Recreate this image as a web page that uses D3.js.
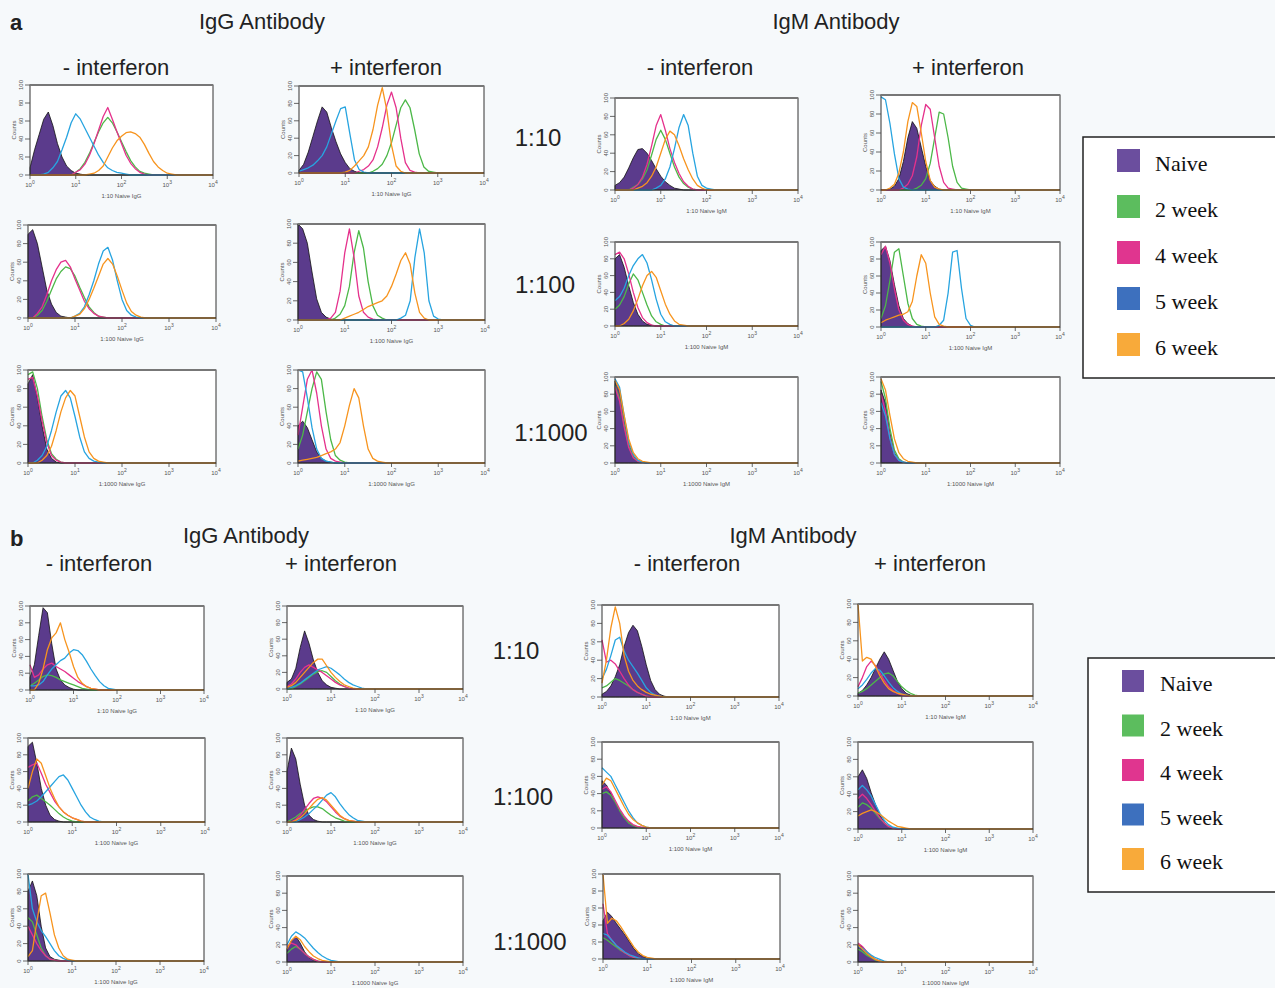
<!DOCTYPE html>
<html>
<head>
<meta charset="utf-8">
<script src="https://cdn.jsdelivr.net/npm/d3@7"></script>
<style>
  body { margin:0; background:#f6f9fb; }
  svg { display:block; }
</style>
</head>
<body>
<script>
const W = 1275, H = 988;

// histogram bins are 0.1 decade wide; each curve = [first bin decade, counts...]
const binStep = 0.1;
const seriesNames = ["Naive", "2 week", "4 week", "5 week", "6 week"];
const lineColors = ["#5b3b8c", "#4cb848", "#e5318c", "#27a4e0", "#f7941e"];
const legendColors = ["#6b4e9e", "#5cbd5e", "#e0358f", "#3d70be", "#f8aa3a"];
const xTicks = [1, 10, 100, 1000, 10000];
const yTicks = [0, 20, 40, 60, 80, 100];

// ---- part a ----  order: naive, 2wk, 4wk, 5wk, 6wk
const aIgGNeg10 = [
  [0, 8,28,45,62,70,55,35,20,10,5,2,1,0],
  [1.0, 3,7,14,24,36,48,58,64,58,48,37,26,16,9,4,2,1,0],
  [1.0, 3,6,12,22,35,50,65,75,62,48,35,22,13,7,3,1,0],
  [0.3, 1,3,8,15,28,42,58,68,62,52,42,32,22,14,8,5,3,2,1,0],
  [1.3, 1,2,5,10,20,30,38,43,47,48,46,42,34,24,15,9,5,2,1,0]
];
const aIgGPos10 = [
  [0, 3,10,24,42,60,76,70,52,36,22,12,5,2,0],
  [1.6, 2,5,10,20,35,55,75,84,75,50,22,7,2,1,0],
  [1.3, 2,4,8,15,30,52,78,93,75,40,12,3,1,0],
  [0, 2,4,6,9,14,20,30,45,60,74,76,45,15,4,1,0],
  [1.0, 1,3,8,14,20,30,50,78,98,72,32,8,2,0]
];
const aIgMNeg10 = [
  [0, 5,8,14,24,35,44,45,40,32,23,15,9,5,2,1,0],
  [0.4, 3,6,12,22,38,55,65,55,40,25,14,7,3,1,0],
  [0.4, 2,6,14,28,48,70,82,65,45,30,18,9,4,1,0],
  [0.9, 2,5,12,25,45,68,82,70,40,15,5,2,1,0],
  [0.5, 2,4,8,15,25,40,55,64,60,48,34,22,12,5,2,0]
];
const aIgMPos10 = [
  [0.2, 1,4,12,30,55,72,65,45,25,10,4,1,0],
  [0.8, 2,5,12,28,55,82,80,55,25,8,2,1,0],
  [0.5, 2,6,15,35,68,90,85,55,25,8,2,1,0],
  [0, 98,95,70,38,12,3,1,0],
  [0.2, 2,6,18,40,72,92,88,60,30,10,3,1,0]
];
const aIgGNeg100 = [
  [0, 90,95,80,55,30,15,6,2,1,0],
  [0.2, 3,8,18,30,42,50,55,53,45,33,22,12,6,2,1,0],
  [0.2, 5,12,25,40,52,60,62,55,42,30,18,10,5,2,1,0],
  [1.0, 2,5,12,25,40,58,72,76,62,40,20,8,3,1,0],
  [1.0, 2,4,10,20,32,45,58,64,58,45,30,16,7,3,1,0]
];
const aIgGPos100 = [
  [0, 100,95,80,50,22,8,3,1,0],
  [0.8, 2,6,15,35,70,93,75,40,15,5,2,0],
  [0.7, 2,8,30,70,95,65,25,8,3,1,0],
  [2.2, 2,5,20,65,95,70,20,4,1,0],
  [1.0, 2,4,6,8,11,14,16,18,20,25,35,48,62,70,58,28,8,2,0]
];
const aIgMNeg100 = [
  [0, 80,85,70,48,28,14,6,2,1,0],
  [0, 20,25,35,50,62,55,40,25,12,5,2,0],
  [0, 85,88,80,62,40,22,10,4,1,0],
  [0, 30,35,45,60,72,80,85,75,55,32,14,5,2,0],
  [0.2, 3,8,18,32,48,60,65,58,42,26,14,6,2,1,0]
];
const aIgMPos100 = [
  [0, 90,95,78,50,25,10,4,1,0],
  [0, 10,25,55,88,92,60,28,10,3,1,0],
  [0, 85,95,75,45,20,8,3,1,0],
  [1.3, 2,8,40,88,90,45,10,2,0],
  [0, 5,8,10,12,14,15,18,30,60,85,75,40,12,3,1,0]
];
const aIgGNeg1000 = [
  [0, 85,95,70,40,15,5,1,0],
  [0, 95,98,80,50,25,10,4,1,0],
  [0, 90,92,72,45,22,8,3,1,0],
  [0.2, 3,8,18,35,55,72,78,70,50,28,12,5,2,1,0],
  [0.3, 3,8,18,35,55,70,78,72,50,28,12,5,2,1,0]
];
const aIgGPos1000 = [
  [0, 40,45,38,25,12,5,2,1,0],
  [0, 15,30,55,80,98,90,55,25,8,3,1,0],
  [0, 30,60,90,100,75,40,15,5,2,1,0],
  [0, 100,98,70,38,15,5,2,1,0],
  [0, 2,3,4,5,6,8,10,12,15,22,40,62,80,70,40,15,5,2,1,0]
];
const aIgMNeg1000 = [
  [0, 95,85,50,22,8,3,1,0],
  [0, 90,75,45,20,7,2,1,0],
  [0, 88,72,42,18,6,2,1,0],
  [0, 98,88,55,25,10,3,1,0],
  [0, 96,85,55,28,12,5,2,1,0]
];
const aIgMPos1000 = [
  [0, 85,70,35,12,4,1,0],
  [0, 95,75,40,15,5,1,0],
  [0, 80,60,30,10,3,1,0],
  [0, 70,55,28,10,3,1,0],
  [0, 98,85,55,28,12,5,2,1,0]
];

// ---- part b ----
const bIgGNeg10 = [
  [0, 15,30,65,98,92,55,25,12,6,3,1,0],
  [0, 5,8,12,16,18,17,15,12,10,8,6,4,2,1,0],
  [0, 30,15,18,25,30,32,28,25,22,18,14,10,7,4,2,1,0],
  [0, 5,5,6,10,18,25,30,35,38,44,48,47,42,34,25,17,10,5,2,1,0],
  [0.2, 8,25,48,62,68,80,60,45,28,15,8,4,2,1,0]
];
const bIgGPos10 = [
  [0, 8,12,25,50,70,55,35,20,10,5,2,1,0],
  [0.2, 3,6,10,14,18,21,22,20,15,10,6,3,1,0],
  [0, 3,6,12,20,26,29,26,23,20,16,12,8,5,3,1,0],
  [0.1, 2,4,7,11,15,19,23,25,27,25,21,17,12,8,5,3,1,0],
  [0, 2,4,8,14,20,26,32,36,36,28,20,14,9,5,3,1,0]
];
const bIgMNeg10 = [
  [0, 3,6,12,22,35,55,70,78,72,55,35,18,8,3,1,0],
  [0, 10,12,16,20,18,15,12,8,5,3,1,0],
  [0, 62,38,40,36,28,20,13,8,5,3,1,0],
  [0, 20,30,45,62,65,50,40,33,26,18,10,5,2,1,0],
  [0, 15,40,75,98,80,45,28,18,12,8,5,3,2,1,0]
];
const bIgMPos10 = [
  [0, 3,6,12,20,30,40,48,40,28,16,8,3,1,0],
  [0, 3,5,8,12,16,20,24,25,22,16,10,6,3,1,0],
  [0, 10,20,32,38,33,25,17,10,6,3,1,0],
  [0, 8,12,18,25,30,28,22,15,9,5,2,1,0],
  [0, 100,38,42,40,32,22,14,8,5,3,2,1,0]
];
const bIgGNeg100 = [
  [0, 90,95,70,40,20,8,3,1,0],
  [0, 25,30,32,28,24,20,15,10,6,3,1,0],
  [0, 65,68,70,58,45,35,25,18,12,8,5,3,1,0],
  [0, 20,22,25,30,36,42,48,54,56,50,40,30,20,12,6,3,1,0],
  [0, 40,60,75,70,55,40,28,18,12,8,5,3,1,0]
];
const bIgGPos100 = [
  [0, 60,88,75,45,20,8,3,1,0],
  [0.1, 3,6,10,13,16,18,18,16,12,8,5,3,1,0],
  [0.2, 3,8,15,22,28,30,28,24,18,12,7,4,2,1,0],
  [0.3, 3,6,10,15,20,26,32,35,30,22,15,9,5,2,1,0],
  [0.2, 2,5,10,16,22,27,29,26,20,14,8,4,2,1,0]
];
const bIgMNeg100 = [
  [0, 55,50,40,30,20,12,7,3,1,0],
  [0, 40,42,38,30,20,12,6,3,1,0],
  [0, 45,48,42,32,22,14,8,4,2,1,0],
  [0, 70,65,60,50,40,30,20,12,6,3,1,0],
  [0, 50,58,55,45,35,25,16,10,6,3,1,0]
];
const bIgMPos100 = [
  [0, 60,68,58,42,28,16,8,3,1,0],
  [0, 25,30,28,24,18,12,7,3,1,0],
  [0, 35,40,35,28,20,13,7,3,1,0],
  [0, 45,50,45,38,28,18,10,5,2,1,0],
  [0, 15,18,20,22,20,17,13,9,6,3,2,1,0]
];
const bIgGNeg1000 = [
  [0, 80,92,75,40,15,5,2,1,0],
  [0, 50,45,30,15,6,2,1,0],
  [0, 40,30,20,12,6,2,1,0],
  [0, 100,60,45,35,28,20,12,6,3,1,0],
  [0, 5,12,45,75,78,55,30,15,6,2,1,0]
];
const bIgGPos1000 = [
  [0, 15,25,30,22,12,5,2,1,0],
  [0, 10,15,18,15,10,6,3,1,0],
  [0, 18,22,20,15,10,6,3,1,0],
  [0, 20,30,35,32,28,22,16,11,7,4,2,1,0],
  [0, 15,25,30,26,18,12,7,4,2,1,0]
];
const bIgMNeg1000 = [
  [0, 45,55,50,42,35,28,20,12,6,3,1,0],
  [0, 25,22,18,14,10,7,4,2,1,0],
  [0, 65,30,22,16,11,7,4,2,1,0],
  [0, 30,28,22,16,12,8,5,3,1,0],
  [0, 100,42,48,45,38,30,22,14,8,4,2,1,0]
];
const bIgMPos1000 = [
  [0, 20,18,12,7,3,1,0],
  [0, 15,12,8,5,2,1,0],
  [0, 22,18,12,6,3,1,0],
  [0, 18,16,12,8,5,3,1,0],
  [0, 20,15,10,6,3,1,0]
];

// panel frames on the page
const panels = [
  {d:aIgGNeg10,  x:30,  y:85,  w:183, h:90, lab:"1:10 Naive IgG"},
  {d:aIgGPos10,  x:299, y:86,  w:185, h:87, lab:"1:10 Naive IgG"},
  {d:aIgMNeg10,  x:615, y:98,  w:183, h:92, lab:"1:10 Naive IgM"},
  {d:aIgMPos10,  x:881, y:95,  w:179, h:95, lab:"1:10 Naive IgM"},
  {d:aIgGNeg100, x:28,  y:225, w:188, h:93, lab:"1:100 Naive IgG"},
  {d:aIgGPos100, x:298, y:224, w:187, h:96, lab:"1:100 Naive IgG"},
  {d:aIgMNeg100, x:615, y:242, w:183, h:84, lab:"1:100 Naive IgM"},
  {d:aIgMPos100, x:881, y:242, w:179, h:85, lab:"1:100 Naive IgM"},
  {d:aIgGNeg1000,x:28,  y:370, w:188, h:93, lab:"1:1000 Naive IgG"},
  {d:aIgGPos1000,x:298, y:370, w:187, h:93, lab:"1:1000 Naive IgG"},
  {d:aIgMNeg1000,x:615, y:377, w:183, h:86, lab:"1:1000 Naive IgM"},
  {d:aIgMPos1000,x:881, y:377, w:179, h:86, lab:"1:1000 Naive IgM"},
  {d:bIgGNeg10,  x:30,  y:606, w:174, h:84, lab:"1:10 Naive IgG"},
  {d:bIgGPos10,  x:287, y:606, w:176, h:83, lab:"1:10 Naive IgG"},
  {d:bIgMNeg10,  x:602, y:605, w:177, h:92, lab:"1:10 Naive IgM"},
  {d:bIgMPos10,  x:858, y:604, w:175, h:92, lab:"1:10 Naive IgM"},
  {d:bIgGNeg100, x:28,  y:738, w:177, h:84, lab:"1:100 Naive IgG"},
  {d:bIgGPos100, x:287, y:738, w:176, h:84, lab:"1:100 Naive IgG"},
  {d:bIgMNeg100, x:602, y:742, w:177, h:86, lab:"1:100 Naive IgM"},
  {d:bIgMPos100, x:858, y:742, w:175, h:87, lab:"1:100 Naive IgM"},
  {d:bIgGNeg1000,x:28,  y:874, w:176, h:87, lab:"1:100 Naive IgG"},
  {d:bIgGPos1000,x:287, y:876, w:176, h:86, lab:"1:1000 Naive IgG"},
  {d:bIgMNeg1000,x:603, y:874, w:177, h:85, lab:"1:100 Naive IgM"},
  {d:bIgMPos1000,x:858, y:876, w:175, h:86, lab:"1:1000 Naive IgM"}
];

const svg = d3.select("body").append("svg")
  .attr("width", W).attr("height", H)
  .style("background", "#f6f9fb");

function curvePoints(c) {
  var from = c[0], n = c.slice(1);
  var pts = n.map(function(v, i) { return [from + i * binStep, v]; });
  if (from > 0) pts.unshift([0, 0], [from - binStep, 0]);
  pts.push([from + n.length * binStep, 0], [4, 0]);
  return pts;
}

panels.forEach(function(p) {
  var g = svg.append("g").attr("transform", "translate(" + p.x + "," + p.y + ")");
  var x = d3.scaleLog().domain([1, 1e4]).range([0, p.w]);
  var y = d3.scaleLinear().domain([0, 100]).range([p.h, 0]);

  g.append("rect").attr("width", p.w).attr("height", p.h).attr("fill", "#fff");

  var line = d3.line()
    .x(function(d) { return x(Math.pow(10, d[0])); })
    .y(function(d) { return y(Math.min(d[1], 100)); });
  var area = d3.area()
    .x(function(d) { return x(Math.pow(10, d[0])); })
    .y0(y(0))
    .y1(function(d) { return y(Math.min(d[1], 100)); });

  g.append("path").datum(curvePoints(p.d[0]))
    .attr("d", area).attr("fill", lineColors[0])
    .attr("stroke", "#111").attr("stroke-width", 0.8);

  [1, 2, 3, 4].forEach(function(k) {
    g.append("path").datum(curvePoints(p.d[k]))
      .attr("d", line).attr("fill", "none")
      .attr("stroke", lineColors[k]).attr("stroke-width", 1.3)
      .attr("stroke-linejoin", "round");
  });

  // frame
  g.append("rect").attr("width", p.w).attr("height", p.h)
    .attr("fill", "none").attr("stroke", "#333").attr("stroke-width", 1);
  g.append("line").attr("x1", 0).attr("x2", p.w).attr("y1", 0).attr("y2", 0)
    .attr("stroke", "#777").attr("stroke-width", 2);

  // y axis
  var ya = g.append("g").attr("transform", "translate(-2,0)");
  ya.selectAll("line").data(yTicks).enter().append("line")
    .attr("x1", -3).attr("x2", 2)
    .attr("y1", function(d) { return y(d); }).attr("y2", function(d) { return y(d); })
    .attr("stroke", "#444").attr("stroke-width", 0.8);
  ya.selectAll("text").data(yTicks).enter().append("text")
    .attr("transform", function(d) { return "translate(-5," + y(d) + ") rotate(-90)"; })
    .attr("text-anchor", "middle")
    .style("font", "6px 'Liberation Sans', Arial, sans-serif").attr("fill", "#555")
    .text(function(d) { return d; });
  g.append("text")
    .attr("transform", "translate(-14," + (p.h / 2) + ") rotate(-90)")
    .attr("text-anchor", "middle")
    .style("font", "6px 'Liberation Sans', Arial, sans-serif").attr("fill", "#555")
    .text("Counts");

  // x axis
  var xa = g.append("g").attr("transform", "translate(0," + p.h + ")");
  xa.selectAll("line").data(xTicks).enter().append("line")
    .attr("x1", function(d) { return x(d); }).attr("x2", function(d) { return x(d); })
    .attr("y1", 0).attr("y2", 4)
    .attr("stroke", "#444").attr("stroke-width", 0.8);
  var tl = xa.selectAll("text").data(xTicks).enter().append("text")
    .attr("x", function(d) { return x(d); }).attr("y", 12)
    .attr("text-anchor", "middle")
    .style("font", "6px 'Liberation Sans', Arial, sans-serif").attr("fill", "#555");
  tl.append("tspan").text("10");
  tl.append("tspan").attr("dy", -3).style("font-size", "5px")
    .text(function(d) { return Math.round(Math.log10(d)); });
  xa.append("text").attr("x", p.w / 2).attr("y", 23)
    .attr("text-anchor", "middle")
    .style("font", "6px 'Liberation Sans', Arial, sans-serif").attr("fill", "#555")
    .text(p.lab);
});

// headings
const headFont = "'Liberation Sans', Arial, sans-serif";
const headings = [
  {t:"a", x:10, y:30, a:"start", s:22, b:true},
  {t:"IgG Antibody", x:262, y:29}, {t:"IgM Antibody", x:836, y:29},
  {t:"- interferon", x:116, y:75}, {t:"+ interferon", x:386, y:75},
  {t:"- interferon", x:700, y:75}, {t:"+ interferon", x:968, y:75},
  {t:"1:10", x:538, y:146, s:24}, {t:"1:100", x:545, y:293, s:24}, {t:"1:1000", x:551, y:441, s:24},
  {t:"b", x:10, y:546, a:"start", s:22, b:true},
  {t:"IgG Antibody", x:246, y:543}, {t:"IgM Antibody", x:793, y:543},
  {t:"- interferon", x:99, y:571}, {t:"+ interferon", x:341, y:571},
  {t:"- interferon", x:687, y:571}, {t:"+ interferon", x:930, y:571},
  {t:"1:10", x:516, y:659, s:24}, {t:"1:100", x:523, y:805, s:24}, {t:"1:1000", x:530, y:950, s:24}
];
svg.selectAll("text.head").data(headings).enter().append("text")
  .attr("class", "head")
  .attr("x", function(d) { return d.x; }).attr("y", function(d) { return d.y; })
  .attr("text-anchor", function(d) { return d.a || "middle"; })
  .style("font-family", headFont)
  .style("font-size", function(d) { return (d.s || 22) + "px"; })
  .style("font-weight", function(d) { return d.b ? "bold" : "normal"; })
  .attr("fill", "#222")
  .text(function(d) { return d.t; });

// legends
function legend(x0, y0, h, step, sw) {
  var g = svg.append("g").attr("transform", "translate(" + x0 + "," + y0 + ")");
  g.append("rect").attr("width", W - x0 + 10).attr("height", h)
    .attr("fill", "#fff").attr("stroke", "#222").attr("stroke-width", 1.5);
  var it = g.selectAll("g").data(seriesNames).enter().append("g")
    .attr("transform", function(d, i) { return "translate(34," + (12 + i * step) + ")"; });
  it.append("rect").attr("width", sw).attr("height", sw)
    .attr("fill", function(d, i) { return legendColors[i]; });
  it.append("text").attr("x", 38).attr("y", sw - 1)
    .style("font", "22px 'Liberation Serif', 'Times New Roman', serif").attr("fill", "#111")
    .text(function(d) { return d; });
}
legend(1083, 137, 241, 46, 23);
legend(1088, 658, 234, 44.5, 22);
</script>
</body>
</html>
